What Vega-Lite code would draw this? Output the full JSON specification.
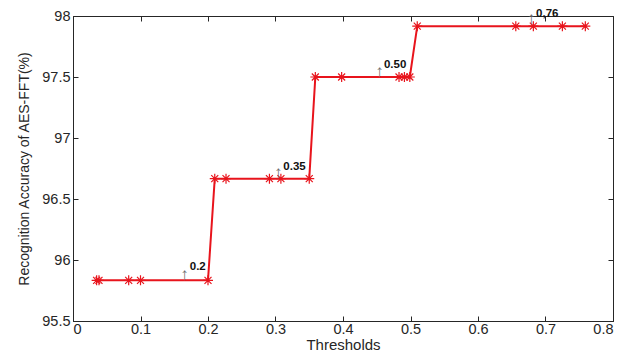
{
  "$schema": "https://vega.github.io/schema/vega-lite/v6.json",
  "width": 540,
  "height": 305,
  "autosize": {"type": "none"},
  "padding": {"left": 73, "top": 16, "right": 14, "bottom": 37},
  "background": "white",
  "config": {
    "view": {"stroke": "#262626", "strokeWidth": 1},
    "font": "Liberation Sans",
    "axis": {"grid": false, "domainColor": "#262626", "tickColor": "#262626", "labelColor": "#262626", "titleColor": "#262626", "labelFont": "Liberation Sans", "titleFont": "Liberation Sans", "labelFontSize": 14.5, "titleFontSize": 14, "titleFontWeight": "normal", "tickSize": -5}
  },
  "datasets": {
    "pts": [
      {"x": 0.035, "y": 95.833}, {"x": 0.0385, "y": 95.833}, {"x": 0.0825, "y": 95.833}, {"x": 0.1, "y": 95.833}, {"x": 0.2, "y": 95.833},
      {"x": 0.21, "y": 96.667}, {"x": 0.2267, "y": 96.667}, {"x": 0.291, "y": 96.667}, {"x": 0.308, "y": 96.667}, {"x": 0.35, "y": 96.667},
      {"x": 0.359, "y": 97.5}, {"x": 0.398, "y": 97.5}, {"x": 0.483, "y": 97.5}, {"x": 0.491, "y": 97.5}, {"x": 0.499, "y": 97.5},
      {"x": 0.51, "y": 97.917}, {"x": 0.656, "y": 97.917}, {"x": 0.682, "y": 97.917}, {"x": 0.725, "y": 97.917}, {"x": 0.759, "y": 97.917}
    ],
    "notes": [
      {"label": "0.2", "x": 0.173, "y": 95.94, "ax": 0.165, "ay": 95.877},
      {"label": "0.35", "x": 0.3116, "y": 96.765, "ax": 0.304, "ay": 96.717},
      {"label": "0.50", "x": 0.4607, "y": 97.598, "ax": 0.454, "ay": 97.545},
      {"label": "0,76", "x": 0.686, "y": 98.016, "ax": 0.679, "ay": 97.975}
    ]
  },
  "layer": [
    {
      "data": {"name": "pts"},
      "mark": {"type": "line", "color": "#e8141c", "strokeWidth": 2},
      "encoding": {
        "x": {"field": "x", "type": "quantitative", "scale": {"domain": [0, 0.8], "nice": false, "zero": false}, "axis": {"title": "Thresholds", "values": [0, 0.1, 0.2, 0.3, 0.4, 0.5, 0.6, 0.7, 0.8], "format": "~g", "labelPadding": 6, "titleFontSize": 15, "titlePadding": 2}},
        "y": {"field": "y", "type": "quantitative", "scale": {"domain": [95.5, 98], "nice": false, "zero": false}, "axis": {"title": "Recognition Accuracy of AES-FFT(%)", "values": [95.5, 96, 96.5, 97, 97.5, 98], "format": "~g", "labelPadding": 8, "titlePadding": 10}}
      }
    },
    {
      "data": {"name": "pts"},
      "mark": {"type": "point", "shape": "M0,-1L0,1M-1,0L1,0M-0.7,-0.7L0.7,0.7M-0.7,0.7L0.7,-0.7", "filled": false, "color": "#e8141c", "strokeWidth": 1.2, "size": 100, "opacity": 1},
      "encoding": {
        "x": {"field": "x", "type": "quantitative", "axis": {"orient": "top", "labels": false, "title": null, "values": [0, 0.1, 0.2, 0.3, 0.4, 0.5, 0.6, 0.7, 0.8], "domain": false}},
        "y": {"field": "y", "type": "quantitative", "axis": {"orient": "right", "labels": false, "title": null, "values": [95.5, 96, 96.5, 97, 97.5, 98], "domain": false}}
      }
    },
    {
      "data": {"name": "notes"},
      "mark": {"type": "text", "text": "↑", "color": "#6e6e6e", "fontSize": 17, "align": "center", "baseline": "middle", "clip": false},
      "encoding": {
        "x": {"field": "ax", "type": "quantitative", "axis": null},
        "y": {"field": "ay", "type": "quantitative", "axis": null}
      }
    },
    {
      "data": {"name": "notes"},
      "mark": {"type": "text", "color": "#111111", "fontSize": 11.5, "fontWeight": "bold", "align": "left", "baseline": "middle", "clip": false},
      "encoding": {
        "x": {"field": "x", "type": "quantitative", "axis": null},
        "y": {"field": "y", "type": "quantitative", "axis": null},
        "text": {"field": "label"}
      }
    }
  ],
  "resolve": {"axis": {"x": "independent", "y": "independent"}}
}
